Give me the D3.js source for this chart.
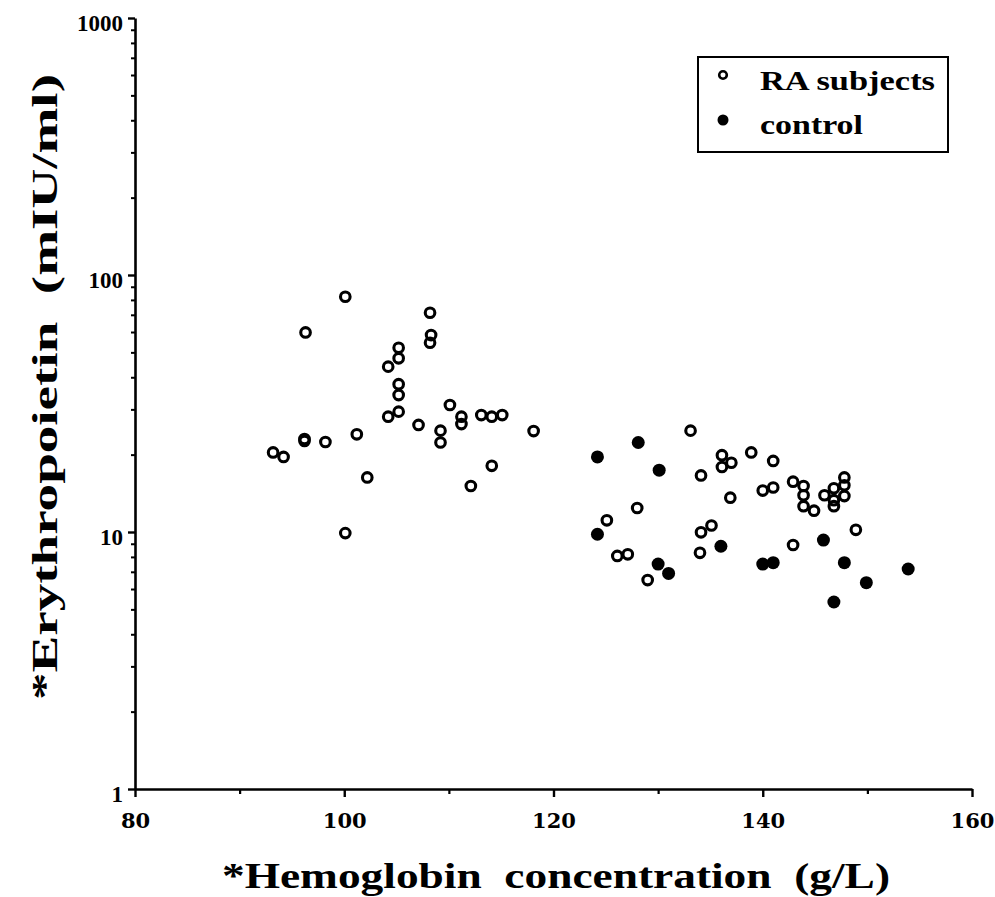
<!doctype html>
<html>
<head>
<meta charset="utf-8">
<script src="https://cdnjs.cloudflare.com/ajax/libs/d3/7.8.5/d3.min.js"></script>
<style>
  body { margin: 0; background: #fff; }
  svg { display: block; }
  text { font-family: "Liberation Serif", "DejaVu Serif", serif; font-weight: bold; fill: #000; }
</style>
</head>
<body>
<svg id="chart" width="995" height="897"></svg>
<script>
// RA subjects: hemoglobin (g/L) and erythropoietin (mIU/ml)
var raHb  = [100.1, 96.3, 108.2, 108.3, 108.2, 105.2, 105.2, 104.2, 105.2, 105.2,
             110.1, 111.2, 111.2, 105.2, 104.2, 113.1, 114.1, 115.1, 107.1, 109.2,
             109.2, 118.1, 101.2, 96.2, 96.2, 98.2, 93.2, 94.2, 102.2, 114.1,
             112.1, 100.1,
             133.1, 136.1, 136.1, 137.0, 134.1, 138.9, 141.0, 140.0, 141.0, 136.9,
             142.9, 143.9, 143.9, 143.9, 144.9, 145.9, 146.8, 146.8, 146.8, 147.8,
             147.8, 147.8, 148.9, 128.0, 125.1, 126.1, 127.1, 129.0, 134.1, 135.1,
             134.0, 142.9];
var raEpo = [82.3, 59.8, 71.3, 58.4, 54.5, 52.1, 47.4, 44.0, 37.6, 34.1,
             31.2, 28.1, 26.3, 29.4, 28.1, 28.5, 28.1, 28.5, 26.1, 24.8,
             22.3, 24.7, 24.0, 23.0, 22.6, 22.4, 20.4, 19.6, 16.3, 18.1,
             15.1, 9.9,
             24.8, 19.9, 17.9, 18.6, 16.6, 20.4, 18.9, 14.5, 14.9, 13.6,
             15.7, 15.1, 13.9, 12.6, 12.1, 13.9, 14.8, 13.3, 12.6, 16.3,
             15.2, 13.8, 10.2, 12.4, 11.1, 8.07, 8.19, 6.5, 9.97, 10.6,
             8.3, 8.9];

// controls
var ctrlHb  = [124.2, 128.1, 130.1, 124.2, 130.0, 131.0, 136.0, 140.0, 141.0, 145.8,
               147.8, 149.9, 146.8, 153.9];
var ctrlEpo = [19.6, 22.3, 17.4, 9.8, 7.5, 6.9, 8.8, 7.5, 7.6, 9.3,
               7.6, 6.35, 5.34, 7.18];

var xMajor = [80, 100, 120, 140, 160];
var xMinor = [90, 110, 130, 150];
var yMajor = [1, 10, 100, 1000];
var legendLabels = ["RA subjects", "control"];

var svg = d3.select("#chart");

var x = d3.scaleLinear().domain([80, 160]).range([135, 972]);
var y = d3.scaleLog().domain([1, 1000]).range([789, 18]);

var yMinor = [];
[1, 10, 100].forEach(function(d) {
  for (var k = 2; k <= 9; k++) yMinor.push(d * k);
});

// x axis
var gx = svg.append("g").attr("transform", "translate(0,789)");
gx.call(d3.axisBottom(x).tickValues(xMajor).tickSize(8).tickSizeOuter(0).tickFormat(d3.format("d")));
gx.select(".domain").attr("stroke-width", 2.6);
gx.selectAll(".tick line").attr("stroke-width", 2.4);
gx.selectAll(".tick text").attr("y", 23).attr("dy", "0.75em")
  .style("font-family", "'DejaVu Serif', serif").style("font-size", "21px");

var gx2 = svg.append("g").attr("transform", "translate(0,789)");
gx2.call(d3.axisBottom(x).tickValues(xMinor).tickSize(5).tickFormat(""));
gx2.select(".domain").remove();
gx2.selectAll(".tick line").attr("stroke-width", 2.2);

// y axis
var gy = svg.append("g").attr("transform", "translate(135,0)");
gy.call(d3.axisLeft(y).tickValues(yMajor).tickSize(7).tickSizeOuter(0).tickFormat(d3.format("d")));
gy.select(".domain").attr("stroke-width", 2.6);
gy.selectAll(".tick line").attr("stroke-width", 2.4);
gy.selectAll(".tick text").attr("x", -12).attr("dy", "0.55em")
  .style("font-size", "23px");

var gy2 = svg.append("g").attr("transform", "translate(135,0)");
gy2.call(d3.axisLeft(y).tickValues(yMinor).tickSize(4).tickFormat(""));
gy2.select(".domain").remove();
gy2.selectAll(".tick line").attr("stroke-width", 2);

// axis titles
svg.append("text")
  .attr("x", 222).attr("y", 888)
  .attr("textLength", 668).attr("lengthAdjust", "spacingAndGlyphs")
  .style("font-size", "36px").style("white-space", "pre")
  .text("*Hemoglobin  concentration  (g/L)");

svg.append("text")
  .attr("transform", "translate(57,700) rotate(-90)")
  .attr("textLength", 626).attr("lengthAdjust", "spacingAndGlyphs")
  .style("font-size", "36px").style("white-space", "pre")
  .text("*Erythropoietin  (mIU/ml)");

// points
var ra = raHb.map(function(d, i) { return [d, raEpo[i]]; });
var ctrl = ctrlHb.map(function(d, i) { return [d, ctrlEpo[i]]; });

svg.append("g").selectAll("circle").data(ra).enter().append("circle")
  .attr("cx", function(d) { return x(d[0]); })
  .attr("cy", function(d) { return y(d[1]); })
  .attr("r", 4.8)
  .attr("fill", "none")
  .attr("stroke", "#000")
  .attr("stroke-width", 3.1);

svg.append("g").selectAll("circle").data(ctrl).enter().append("circle")
  .attr("cx", function(d) { return x(d[0]); })
  .attr("cy", function(d) { return y(d[1]); })
  .attr("r", 6.5)
  .attr("fill", "#000");

// legend
var lg = svg.append("g");
lg.append("rect").attr("x", 698).attr("y", 57).attr("width", 250).attr("height", 95)
  .attr("fill", "none").attr("stroke", "#000").attr("stroke-width", 2);
lg.append("circle").attr("cx", 723).attr("cy", 75).attr("r", 3.8)
  .attr("fill", "none").attr("stroke", "#000").attr("stroke-width", 2.6);
lg.append("circle").attr("cx", 723).attr("cy", 120).attr("r", 5.5).attr("fill", "#000");
lg.append("text").attr("x", 760).attr("y", 90)
  .attr("textLength", 175).attr("lengthAdjust", "spacingAndGlyphs")
  .style("font-size", "28px").text(legendLabels[0]);
lg.append("text").attr("x", 760).attr("y", 134)
  .attr("textLength", 103).attr("lengthAdjust", "spacingAndGlyphs")
  .style("font-size", "28px").text(legendLabels[1]);
</script>
</body>
</html>
